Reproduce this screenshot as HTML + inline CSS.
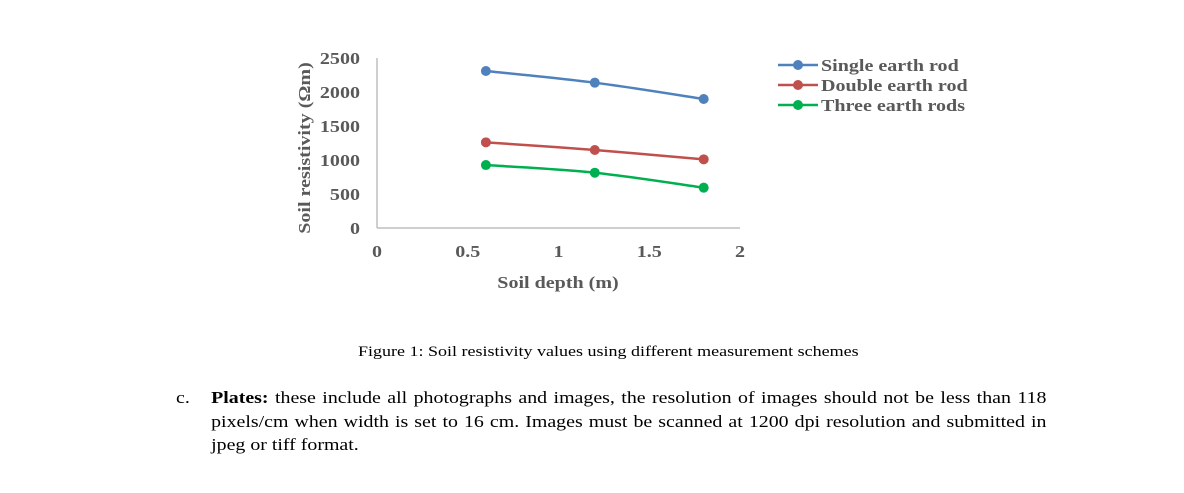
<!DOCTYPE html>
<html><head><meta charset="utf-8"><style>
body{margin:0;width:1184px;height:493px;background:#fff;position:relative;overflow:hidden;font-family:"Liberation Serif",serif}
svg{position:absolute;left:0;top:0}
.cap{position:absolute;left:358px;top:344px;white-space:nowrap;font-size:15px;color:#000;transform:scaleX(1.2);transform-origin:0 0}
.para{position:absolute;left:176px;top:386px;width:744px;font-size:17px;line-height:23.5px;color:#000;transform:scaleX(1.17);transform-origin:0 0}
.para .lbl{position:absolute;left:0;top:0}
.para .txt{margin-left:30px;text-align:justify}
</style></head><body>
<svg width="1184" height="330">
<g id="axes"></g><g id="series"></g><g id="legend"></g>
</svg>
<div class="cap">Figure 1: Soil resistivity values using different measurement schemes</div>
<div class="para"><span class="lbl">c.</span><div class="txt"><b>Plates:</b> these include all photographs and images, the resolution of images should not be less than 118 pixels/cm when width is set to 16 cm. Images must be scanned at 1200 dpi resolution and submitted in jpeg or tiff format.</div></div>
<script>
const xValues=[0.6,1.2,1.8];
const seriesNames=["Single earth rod","Double earth rod","Three earth rods"];
const singleRod=[2309,2137,1897];
const doubleRod=[1260,1147,1010];
const threeRods=[926,813,593];
const yTicks=[0,500,1000,1500,2000,2500];
const xTicks=[0,0.5,1,1.5,2];
const colors=["#4f81bd","#c0504d","#00b050"];
const NS="http://www.w3.org/2000/svg";
const X0=377,X1=740,Y0=228,Y1=58;
const xs=v=>X0+(v/2)*(X1-X0);
const ys=v=>Y0-(v/2500)*(Y0-Y1);
function mk(t,a,p){const e=document.createElementNS(NS,t);for(const k in a)e.setAttribute(k,a[k]);p.appendChild(e);return e;}
const tstyle={fill:'#595959','font-family':'Liberation Serif, serif','font-size':17,'font-weight':'bold'};
function txt(p,x,y,anchor,s,rot){const t=mk('text',Object.assign({x:0,y:0,'text-anchor':anchor,transform:`translate(${x},${y})${rot?' rotate(-90)':''} scale(1.18,1)`},tstyle),p);t.textContent=s;return t;}
const ax=document.getElementById('axes');
let yl=mk('line',{x1:X0,y1:Y1,x2:X0,y2:Y0,stroke:'#bfbfbf','stroke-width':1.5},ax);


let xl=mk('line',{x1:X0,y1:Y0,x2:X1,y2:Y0,stroke:'#bfbfbf','stroke-width':1.5},ax);


yTicks.forEach(v=>{const t=txt(ax,360,ys(v)+6,'end',v);

});
xTicks.forEach(v=>{const t=txt(ax,xs(v),257,'middle',v);

});
let xt=txt(ax,558,288,'middle','Soil depth (m)');


let yt=txt(ax,310,148,'middle','Soil resistivity (Ωm)',true);


const sg=document.getElementById('series');
[singleRod,doubleRod,threeRods].forEach((d,i)=>{
  const pts=d.map((v,j)=>[xs(xValues[j]),ys(v)]);
  let p='M'+pts[0].join(',');
  for(let j=1;j<pts.length;j++){const a=pts[j-1],b=pts[j],pr=pts[j-2]||a,nx=pts[j+1]||b;
    const c1=[a[0]+(b[0]-pr[0])/6,a[1]+(b[1]-pr[1])/6],c2=[b[0]-(nx[0]-a[0])/6,b[1]-(nx[1]-a[1])/6];
    p+=` C${c1} ${c2} ${b}`;}
  const path=mk('path',{d:p,fill:'none',stroke:colors[i],'stroke-width':2.5},sg);
  
  
  pts.forEach(q=>{const c=mk('circle',{cx:q[0],cy:q[1],r:5,fill:colors[i]},sg);
    
    });
});
const lg=document.getElementById('legend');
seriesNames.forEach((n,i)=>{const y=65+i*20;
  const l=mk('line',{x1:778,y1:y,x2:818,y2:y,stroke:colors[i],'stroke-width':2.5},lg);
  
  
  const c=mk('circle',{cx:798,cy:y,r:5,fill:colors[i]},lg);
  
  
  const t=txt(lg,821,y+6,'start',n);
  
  });
</script>
</body></html>
